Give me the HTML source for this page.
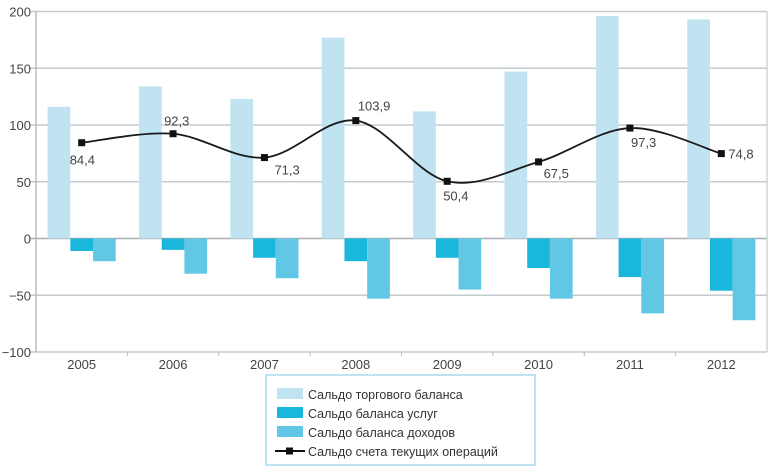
<!DOCTYPE html>
<html><head><meta charset="utf-8">
<style>
html,body{margin:0;padding:0;background:#fff;}
body{width:776px;height:470px;overflow:hidden;font-family:"Liberation Sans",sans-serif;}
</style></head>
<body>
<svg id="chart" width="776" height="470" xmlns="http://www.w3.org/2000/svg" font-family="Liberation Sans, sans-serif"></svg>
<script>
const years = ["2005","2006","2007","2008","2009","2010","2011","2012"];
const tradeBalance = [116,134,123,177,112,147,196,193];
const servicesBalance = [-11,-10,-17,-20,-17,-26,-34,-46];
const incomeBalance = [-20,-31,-35,-53,-45,-53,-66,-72];
const currentAccount = [84.4,92.3,71.3,103.9,50.4,67.5,97.3,74.8];
const currentLabels = ["84,4","92,3","71,3","103,9","50,4","67,5","97,3","74,8"];
const yTicks = [-100,-50,0,50,100,150,200];
const yTickLabels = ["\u2212100","\u221250","0","50","100","150","200"];

const svg = document.getElementById('chart');
const NS = "http://www.w3.org/2000/svg";
const L=36, R=767, T=11.5, B=352;
const catW=(R-L)/years.length;
function x(i){return L+catW*(i+0.5);}
function y(v){return B-(v+100)/300*(B-T);}
function mk(tag,attrs,parent){const e=document.createElementNS(NS,tag);for(const k in attrs)e.setAttribute(k,attrs[k]);(parent||svg).appendChild(e);return e;}

// grid
yTicks.forEach((t,i)=>{
  const g=mk('line',{x1:L-6,x2:R,y1:y(t),y2:y(t),stroke:t===0?'#a8b0b3':'#c4cbce','stroke-width':1.4});
  
  
  const tx=mk('text',{x:L-5,y:y(t)+5,'text-anchor':'end','font-size':13,fill:'#444'});
  tx.textContent=yTickLabels[i];
  
  
});
const ax=mk('line',{x1:L,x2:L,y1:T,y2:B,stroke:'#b4bcbf','stroke-width':1.4});


const ax2=mk('line',{x1:R,x2:R,y1:T,y2:B,stroke:'#c4cbce','stroke-width':1.2});



// bars
const bw=22.7;
const series=[[tradeBalance,'#bfe3f0','trade'],[servicesBalance,'#19b7dc','services'],[incomeBalance,'#62c7e5','income']];
years.forEach((yr,i)=>{
  series.forEach((s,j)=>{
    const v=s[0][i];
    const bx=x(i)-1.5*bw+j*bw;
    const r=mk('rect',{x:bx,y:Math.min(y(v),y(0)),width:bw,height:Math.abs(y(v)-y(0)),fill:s[1]});
    
    
  });
  const t=mk('text',{x:x(i),y:369,'text-anchor':'middle','font-size':13,fill:'#444'});
  t.textContent=yr;
  
  
  if(i>0){const tk=mk('line',{x1:L+catW*i,x2:L+catW*i,y1:B,y2:B+4,stroke:'#b4bcbf'});
  
  }
});

// smooth line (catmull-rom)
const pts=currentAccount.map((v,i)=>[x(i),y(v)]);
let d='M'+pts[0][0]+','+pts[0][1];
for(let i=0;i<pts.length-1;i++){
  const p0=pts[Math.max(0,i-1)],p1=pts[i],p2=pts[i+1],p3=pts[Math.min(pts.length-1,i+2)];
  const c1=[p1[0]+(p2[0]-p0[0])/6,p1[1]+(p2[1]-p0[1])/6];
  const c2=[p2[0]-(p3[0]-p1[0])/6,p2[1]-(p3[1]-p1[1])/6];
  d+=' C'+c1+' '+c2+' '+p2;
}
const ln=mk('path',{d:d,fill:'none',stroke:'#1a1a1a','stroke-width':1.8});


const offs=[[-12,22,'start'],[-9,-8,'start'],[10,17,'start'],[2,-10,'start'],[-4,19,'start'],[5,16,'start'],[1,19,'start'],[7,5,'start']];
pts.forEach((p,i)=>{
  const m=mk('rect',{x:p[0]-3.5,y:p[1]-3.5,width:7,height:7,fill:'#111'});
  
  
  const t=mk('text',{x:p[0]+offs[i][0],y:p[1]+offs[i][1],'text-anchor':offs[i][2],'font-size':13,fill:'#444'});
  t.textContent=currentLabels[i];
  
  
});

// legend
const lg=mk('g',{});


mk('rect',{x:266,y:375,width:269,height:90,fill:'#fff',stroke:'#bfe3f0','stroke-width':2},lg);
const items=[['Сальдо торгового баланса','#bfe3f0'],['Сальдо баланса услуг','#19b7dc'],['Сальдо баланса доходов','#62c7e5'],['Сальдо счета текущих операций',null]];
items.forEach((it,k)=>{
  const yy=394+k*19;
  const g=mk('g',{},lg);
  
  
  if(it[1]) mk('rect',{x:277,y:yy-6,width:26,height:11,fill:it[1]},g);
  else {mk('line',{x1:275,x2:305,y1:yy,y2:yy,stroke:'#111','stroke-width':2},g);mk('rect',{x:286,y:yy-3.5,width:7,height:7,fill:'#111'},g);}
  const t=mk('text',{x:308,y:yy+5,'font-size':12.5,fill:'#333'},g);
  t.textContent=it[0];
});
</script>
</body></html>
